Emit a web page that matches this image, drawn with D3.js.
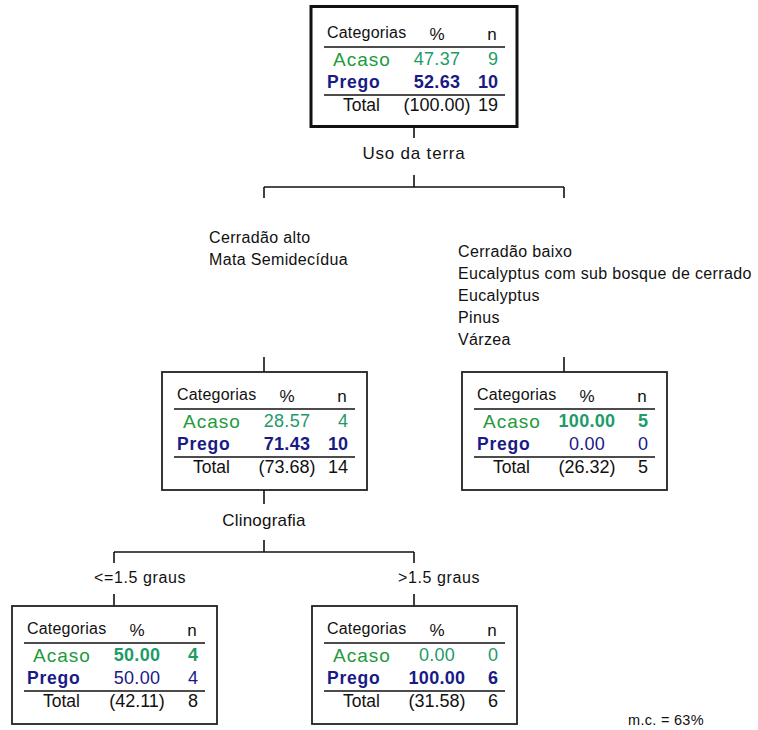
<!DOCTYPE html>
<html><head><meta charset="utf-8">
<script src="https://cdn.jsdelivr.net/npm/d3@7"></script>
<style>
body{margin:0;background:#fff}
svg{display:block}
text{font-family:"Liberation Sans",Arial,sans-serif;fill:#111}
</style>
</head><body><svg id="c" width="758" height="730"></svg>
<script>
// ---------- data ----------
const categories = ["Acaso", "Prego"];
const nodeIds = ["n0", "n1", "n2", "n3", "n4"];
const nodeParents = [null, "n0", "n0", "n1", "n1"];
const nodePct = [[47.37, 52.63], [28.57, 71.43], [100.00, 0.00], [50.00, 50.00], [0.00, 100.00]];
const nodeCount = [[9, 10], [4, 10], [5, 0], [4, 4], [0, 6]];
const nodeTotalPct = [100.00, 73.68, 26.32, 42.11, 31.58];
const nodeTotalN = [19, 14, 5, 8, 6];
const splitVariable = ["Uso da terra", "Clinografia", null, null, null];
const branchLabels = [
  [],
  ["Cerradão alto", "Mata Semidecídua"],
  ["Cerradão baixo", "Eucalyptus com sub bosque de cerrado", "Eucalyptus", "Pinus", "Várzea"],
  ["<=1.5 graus"],
  [">1.5 graus"]
];
const headerLabels = ["Categorias", "%", "n"];
const totalLabel = "Total";
const footnote = "m.c. = 63%";

// ---------- layout / style ----------
const depthTop = [5, 372, 606];
const boxW = 205, boxH = 118;
const branchLabelDx = [0, -55, -106, -20, -16];
const branchLabelY = [0, 237, 251, 577, 577];
const lineGap = 22;
const colAcasoLabel = "#229a3a", colAcasoNum = "#1d9b68";
const colPrego = "#1a1a86";
const fmt = d3.format(".2f");

const svg = d3.select("#c");

const rows = nodeIds.map((id, i) => ({id, parent: nodeParents[i], i}));
const root = d3.stratify().id(d => d.id).parentId(d => d.parent)(rows);
d3.tree().nodeSize([150, 1]).separation((a, b) => a.parent === b.parent ? 2 : 1)(root);
const xShift = 414 - root.x;
const xs = d3.scaleLinear().domain([0, 1]).range([xShift, xShift + 1]);
root.each(n => { n.cx = xs(n.x); n.top = depthTop[n.depth]; });

const g = svg.append("g");

function line(x1, y1, x2, y2, w) {
  g.append("line").attr("x1", x1).attr("y1", y1).attr("x2", x2).attr("y2", y2)
    .attr("stroke", "#111").attr("stroke-width", w || 1.6);
}
function txt(x, y, s, o) {
  o = o || {};
  return g.append("text").attr("x", x).attr("y", y).attr("dy", "0.35em")
    .attr("text-anchor", o.anchor || "start")
    .style("font-size", (o.size || 16) + "px")
    .style("font-weight", o.bold ? "bold" : "normal")
    .style("letter-spacing", (o.ls || 0) + "px")
    .style("fill", o.fill || "#111")
    .text(s);
}

root.each(n => {
  const i = n.data.i;
  const isRoot = n.depth === 0;
  const L = n.cx - 102;
  const T = isRoot ? 10 : n.top;
  if (isRoot) {
    g.append("rect").attr("x", n.cx - 103).attr("y", 6.5).attr("width", 206).attr("height", 120)
      .attr("fill", "none").attr("stroke", "#111").attr("stroke-width", 3);
  } else {
    g.append("rect").attr("x", L).attr("y", T).attr("width", boxW).attr("height", boxH)
      .attr("fill", "none").attr("stroke", "#222").attr("stroke-width", 1.8);
  }
  // header
  txt(L + 15, T + 22, headerLabels[0], {size: 16, ls: 0.2});
  txt(L + 125, T + 24, headerLabels[1], {size: 17, anchor: "middle"});
  txt(L + 180, T + 24, headerLabels[2], {size: 17, anchor: "middle"});
  line(L + 12, T + 37, L + 193, T + 37, 1.6);
  const best = d3.maxIndex(nodeCount[i]);
  categories.forEach((c, k) => {
    const y = T + 49 + k * 23;
    const bold = k === best;
    if (k === 0) txt(L + 21, y, c, {size: 19, ls: 1, fill: colAcasoLabel});
    else txt(L + 15, y, c, {size: 17.5, bold: true, ls: 0.8, fill: colPrego});
    const nc = k === 0 ? colAcasoNum : colPrego;
    txt(L + 125, y, fmt(nodePct[i][k]), {size: 18, bold, anchor: "middle", fill: nc, ls: 0.3});
    txt(L + 186, y, nodeCount[i][k], {size: 18, bold, anchor: "end", fill: nc});
  });
  line(L + 12, T + 85, L + 193, T + 85, 1.6);
  txt(L + 31, T + 95, totalLabel, {size: 17.5});
  txt(L + 125, T + 95, "(" + fmt(nodeTotalPct[i]) + ")", {size: 18, anchor: "middle"});
  txt(L + 186, T + 95, nodeTotalN[i], {size: 18, anchor: "end"});

  // split
  if (n.children) {
    const B = isRoot ? 128 : n.top + boxH;
    const off = isRoot ? [10, 25, 47, 59, 70] : [14, 30, 50, 62, 73];
    line(n.cx, B, n.cx, B + off[0]);
    txt(n.cx, B + off[1], splitVariable[i], {size: 17, anchor: "middle", ls: isRoot ? 0.8 : 0.2});
    line(n.cx, B + off[2], n.cx, B + off[3]);
    const cx = n.children.map(c => c.cx);
    line(d3.min(cx), B + off[3], d3.max(cx), B + off[3]);
    n.children.forEach(c => {
      line(c.cx, B + off[3], c.cx, B + off[4]);
      const j = c.data.i;
      branchLabels[j].forEach((s, k) => {
        txt(c.cx + branchLabelDx[j], branchLabelY[j] + k * lineGap, s, {size: 16, ls: c.depth === 2 ? 0.6 : 0.35});
      });
      const lastY = branchLabelY[j] + (branchLabels[j].length - 1) * lineGap;
      const from = c.depth === 1 ? c.top - 15 : lastY + 17;
      line(c.cx, from, c.cx, c.top);
    });
  }
});

txt(628, 720, footnote, {size: 14.5, ls: 0.3});
</script>
</body></html>
